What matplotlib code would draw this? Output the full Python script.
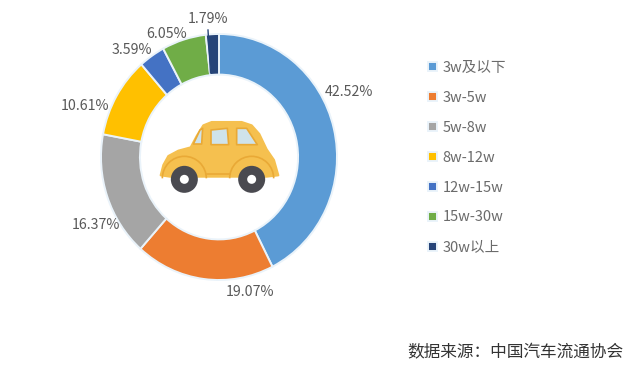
from matplotlib import pyplot as plt
from matplotlib.patches import Arc, Circle, Polygon

plt.rcParams['font.family'] = ['Noto Sans CJK SC', 'DejaVu Sans']

categories = ['3w及以下', '3w-5w', '5w-8w', '8w-12w', '12w-15w', '15w-30w', '30w以上']
shares = [42.52, 19.07, 16.37, 10.61, 3.59, 6.05, 1.79]
colors = ['#5B9BD5', '#ED7D31', '#A5A5A5', '#FFC000', '#4472C4', '#70AD47', '#264478']
share_labels = ['42.52%', '19.07%', '16.37%', '10.61%', '3.59%', '6.05%', '1.79%']
label_spots = [(349, 92), (250, 292), (96, 225), (85, 106), (132, 50), (167, 34), (208, 19)]

W, H = 640, 376
fig = plt.figure(figsize=(W / 100, H / 100), dpi=100)

# donut is a bit taller than wide in the original, so aspect is left free
cx, cy, rx, ry = 219, 157, 118, 123
ax = fig.add_axes([(cx - rx) / W, 1 - (cy + ry) / H, 2 * rx / W, 2 * ry / H])
wedges, _ = ax.pie(shares, colors=colors, startangle=90, counterclock=False, radius=1,
                   wedgeprops=dict(width=0.33, edgecolor='#EAF3FA', linewidth=1.4))
ax.set_xlim(-1, 1)
ax.set_ylim(-1, 1)
ax.set_aspect('auto')

# overlay in image pixels for labels and the car
over = fig.add_axes([0, 0, 1, 1], facecolor='none')
over.set_xlim(0, W)
over.set_ylim(H, 0)
over.axis('off')

for txt, (x, y) in zip(share_labels, label_spots):
    over.text(x, y, txt, ha='center', va='center', fontsize=10.2, color='#595959')

# leader line of the smallest slice
over.plot([208, 210.5], [30, 73], color='#264478', lw=1)


def z(x, y):
    # car was measured on a 3x crop starting at (150, 110)
    return 150 + x / 3, 110 + y / 3


BODY = '#F5C04F'
TRIM = '#E9A936'
body = [(32, 196), (40, 165), (55, 138), (85, 122), (122, 112), (140, 78), (160, 46), (185, 36),
        (275, 36), (305, 46), (328, 72), (350, 118), (372, 150), (385, 196), (350, 200), (60, 200)]
over.add_patch(Polygon([z(*p) for p in body], closed=True, fc=BODY, ec=BODY, lw=1.5, joinstyle='round'))

# fenders, only the outline over the body
for fx in (103, 305):
    over.add_patch(Arc(z(fx, 205), 44, 44, theta1=180, theta2=360, ec=TRIM, lw=1.2))
over.plot(*zip(*[z(170, 192), z(240, 192)]), color=TRIM, lw=1.2)

# windows
for win in ([(130, 102), (150, 60), (158, 55), (155, 102)],
            [(183, 60), (232, 55), (236, 104), (183, 104)],
            [(260, 55), (290, 55), (322, 104), (260, 104)]):
    over.add_patch(Polygon([z(*p) for p in win], closed=True, fc='#CFE3EA', ec=TRIM, lw=1.2,
                           joinstyle='round'))

# wheels
for wx in (103, 305):
    wc = z(wx, 208)
    over.add_patch(Circle(wc, 13.5, fc='#4A4A50', ec='none'))
    over.add_patch(Circle(wc, 4.5, fc='white', ec='none'))

fig.legend(wedges, categories, loc='upper left', bbox_to_anchor=(428 / W, 1 - 61 / H),
           frameon=False, fontsize=10.5, labelcolor='#6B6B6B', handlelength=0.6, handleheight=0.6,
           handletextpad=0.4, labelspacing=1.09, borderpad=0, borderaxespad=0)

over.text(407, 353, '数据来源：中国汽车流通协会', ha='left', va='center', fontsize=12, color='#333333')

plt.savefig('out.png', dpi=100)
